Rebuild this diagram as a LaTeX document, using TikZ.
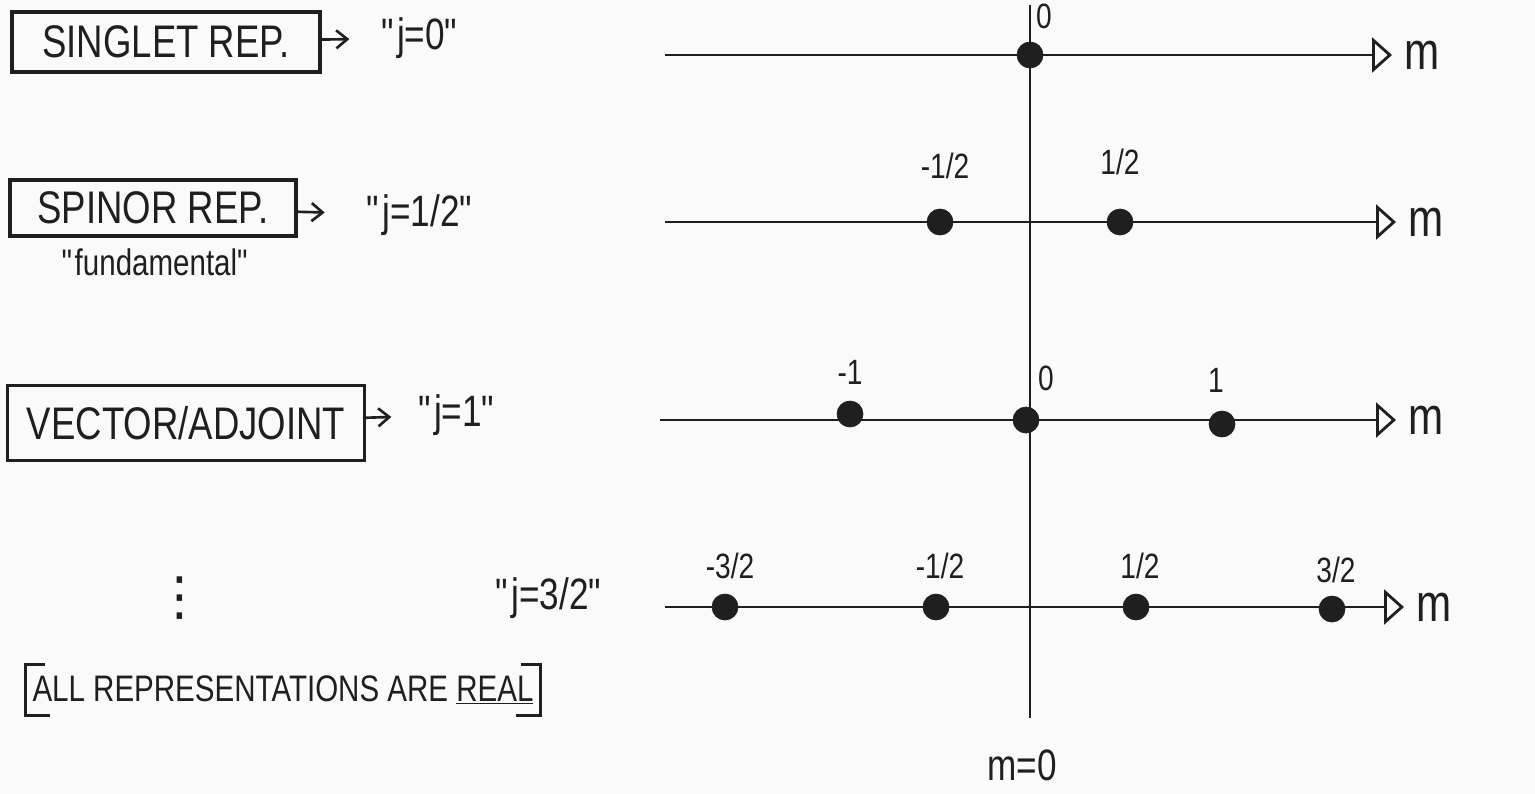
\documentclass[tikz,border=0pt]{standalone}
\usepackage{fontspec}
\setmainfont[FakeStretch=0.8]{Liberation Sans}
\newfontfamily\symfont{DejaVu Sans}
\usetikzlibrary{arrows.meta, positioning}
\colorlet{inkcolor}{black!88}
\colorlet{papercolor}{black!2}
\newcommand{\q}{\textquotedbl}
\tikzset{
  repbox/.style={
    draw=inkcolor,
    line width=1.8pt,
    inner sep=2pt,
    align=center,
    text=inkcolor,
    font=\fontsize{26}{30}\selectfont
  },
  jlabel/.style={text=inkcolor, inner sep=1pt, font=\fontsize{25}{29}\selectfont},
  note/.style={text=inkcolor, inner sep=1pt, font=\fontsize{21}{25}\selectfont},
  mtext/.style={text=inkcolor, inner sep=1pt, font=\fontsize{30}{34}\selectfont},
  dotlab/.style={text=inkcolor, inner sep=1pt, font=\fontsize{20}{24}\selectfont},
  wdot/.style={circle, fill=inkcolor, draw=inkcolor, inner sep=0pt, minimum size=5.2mm},
  maparr/.style={-{Straight Barb[length=2.2mm, width=3.6mm]}, line width=1.5pt, draw=inkcolor},
  axisarr/.style={-{Triangle[open, length=4mm, width=7mm]}, line width=1.6pt, draw=inkcolor},
  zeroaxis/.style={line width=1.2pt, draw=inkcolor},
  bracket/.style={line width=1.6pt, draw=inkcolor}
}
\begin{document}
\begin{tikzpicture}[x=0.2mm, y=-0.2mm]
\useasboundingbox[fill=papercolor] (0,0) rectangle (1535,793);

% representations on the left
\node[repbox, minimum width=6.16cm, minimum height=1.2cm] (singlet) at (166,42) {SINGLET REP.};
\node[jlabel] (jzero) at (421,38) {\q j=0\q};
\node[repbox, minimum width=5.72cm, minimum height=1.12cm] (spinor) at (153,208) {SPINOR REP.};
\node[note] (fund) at (156,262) {\q fundamental\q};
\node[jlabel] (jhalf) at (421,215) {\q j=1/2\q};
\node[repbox, minimum width=7.14cm, minimum height=1.5cm] (vector) at (186,423) {VECTOR/ADJOINT};
\node[jlabel] (jone) at (458,415) {\q j=1\q};
\node[jlabel, font=\symfont\fontsize{30}{34}\selectfont] (more) at (180,598) {⋮};
\node[jlabel] (jthree) at (550,598) {\q j=3/2\q};
\node[note, minimum height=1.0cm, inner xsep=4pt] (allreal) at (283,690) {ALL REPRESENTATIONS ARE \underline{REAL}};

\draw[maparr, shorten >=6mm] (singlet) -- (jzero);
\draw[maparr, shorten >=8mm] (spinor) -- (jhalf);
\draw[maparr, shorten >=5mm] (vector) -- (jone);

\draw[bracket] ([xshift=4mm]allreal.north west) -- (allreal.north west) -- (allreal.south west) -- ([xshift=5mm]allreal.south west);
\draw[bracket] ([xshift=-4mm]allreal.north east) -- (allreal.north east) -- (allreal.south east) -- ([xshift=-5mm]allreal.south east);

% m = 0 axis
\coordinate (axtop) at (1030,5);
\coordinate (axbot) at (1030,718);
\draw[zeroaxis] (axtop) -- (axbot);
\node[mtext, font=\fontsize{25}{29}\selectfont] (mzero) at (1022,765) {m=0};

% weight lines
\coordinate (r1s) at (665,55);
\coordinate (r1e) at (1392,55);
\coordinate (r2s) at (665,222);
\coordinate (r2e) at (1396,222);
\coordinate (r3s) at (660,420);
\coordinate (r3e) at (1396,420);
\coordinate (r4s) at (665,607);
\coordinate (r4e) at (1404,607);

\draw[axisarr] (r1s) -- (r1e);
\draw[axisarr] (r2s) -- (r2e);
\draw[axisarr] (r3s) -- (r3e);
\draw[axisarr] (r4s) -- (r4e);

\node[mtext, right=2mm of r1e] (m1) {m};
\node[mtext, right=2mm of r2e] (m2) {m};
\node[mtext, right=2mm of r3e] (m3) {m};
\node[mtext, right=2mm of r4e] (m4) {m};

% j = 0
\node[wdot] (w00) at (1030,55) {};
\node[dotlab] (l00) at (1044,16) {0};

% j = 1/2
\node[wdot] (w11) at (940,222) {};
\node[wdot] (w12) at (1120,222) {};
\node[dotlab] (l11) at (945,166) {-1/2};
\node[dotlab] (l12) at (1120,162) {1/2};

% j = 1
\node[wdot] (w21) at (850,414) {};
\node[wdot] (w22) at (1026,420) {};
\node[wdot] (w23) at (1222,424) {};
\node[dotlab] (l21) at (850,372) {-1};
\node[dotlab] (l22) at (1046,378) {0};
\node[dotlab] (l23) at (1216,380) {1};

% j = 3/2
\node[wdot] (w31) at (725,607) {};
\node[wdot] (w32) at (936,607) {};
\node[wdot] (w33) at (1136,607) {};
\node[wdot] (w34) at (1332,609) {};
\node[dotlab] (l31) at (730,566) {-3/2};
\node[dotlab] (l32) at (940,566) {-1/2};
\node[dotlab] (l33) at (1140,566) {1/2};
\node[dotlab] (l34) at (1336,570) {3/2};

\end{tikzpicture}
\end{document}
